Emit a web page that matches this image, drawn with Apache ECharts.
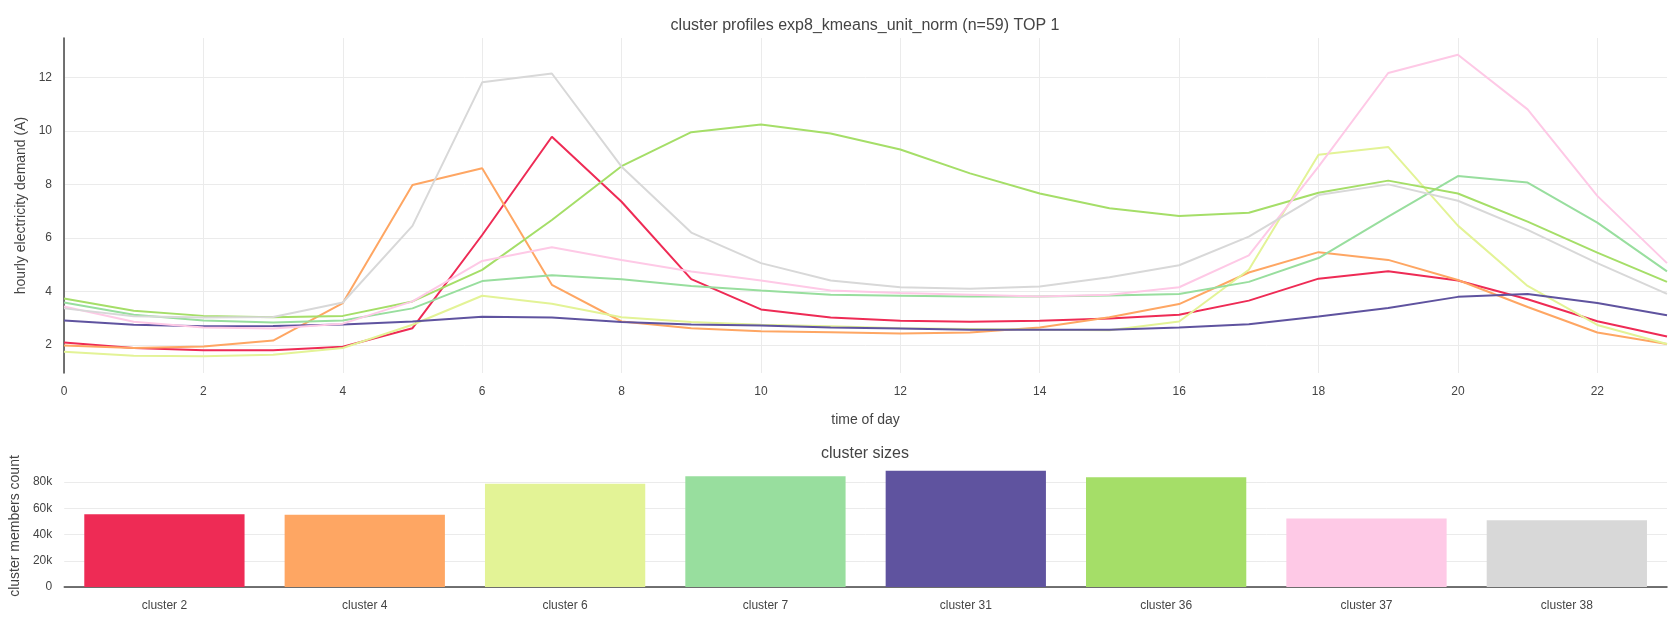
<!DOCTYPE html>
<html>
<head>
<meta charset="utf-8">
<script src="https://cdn.jsdelivr.net/npm/echarts@6/dist/echarts.min.js"></script>
<style>
  html, body { margin: 0; padding: 0; background: #fff; }
  #chart { width: 1676px; height: 635px; }
</style>
</head>
<body>
<div id="chart"></div>
<script>
// hour of day (x of the profile chart)
var hours = [0, 1, 2, 3, 4, 5, 6, 7, 8, 9, 10, 11, 12, 13, 14, 15, 16, 17, 18, 19, 20, 21, 22, 23];

// mean hourly demand per cluster (A)
var cluster2  = [2.10, 1.89, 1.81, 1.81, 1.94, 2.63, 6.11, 9.78, 7.35, 4.46, 3.33, 3.03, 2.91, 2.87, 2.91, 2.99, 3.13, 3.66, 4.48, 4.76, 4.41, 3.71, 2.89, 2.32];
var cluster4  = [1.98, 1.89, 1.95, 2.17, 3.57, 7.98, 8.60, 4.25, 2.88, 2.63, 2.52, 2.48, 2.43, 2.47, 2.66, 3.04, 3.53, 4.71, 5.47, 5.18, 4.43, 3.42, 2.47, 2.04];
var cluster6  = [1.75, 1.60, 1.58, 1.64, 1.89, 2.76, 3.84, 3.54, 3.04, 2.86, 2.76, 2.70, 2.63, 2.60, 2.57, 2.55, 2.88, 4.81, 9.11, 9.40, 6.46, 4.21, 2.75, 2.04];
var cluster7  = [3.59, 3.13, 2.92, 2.84, 2.92, 3.37, 4.39, 4.61, 4.46, 4.21, 4.04, 3.88, 3.84, 3.81, 3.81, 3.85, 3.91, 4.36, 5.25, 6.80, 8.31, 8.07, 6.57, 4.75];
var cluster31 = [2.92, 2.76, 2.70, 2.71, 2.77, 2.88, 3.06, 3.03, 2.86, 2.77, 2.73, 2.66, 2.62, 2.57, 2.57, 2.57, 2.66, 2.78, 3.07, 3.38, 3.80, 3.91, 3.57, 3.11];
var cluster36 = [3.74, 3.28, 3.09, 3.04, 3.09, 3.63, 4.81, 6.67, 8.68, 9.95, 10.24, 9.90, 9.30, 8.41, 7.66, 7.11, 6.82, 6.94, 7.69, 8.14, 7.66, 6.61, 5.45, 4.36];
var cluster37 = [3.44, 2.87, 2.66, 2.62, 2.80, 3.63, 5.14, 5.65, 5.18, 4.75, 4.41, 4.04, 3.94, 3.88, 3.81, 3.88, 4.16, 5.35, 8.66, 12.16, 12.84, 10.80, 7.57, 5.06];
var cluster38 = [3.37, 3.08, 3.03, 3.05, 3.59, 6.45, 11.81, 12.14, 8.66, 6.20, 5.06, 4.41, 4.16, 4.10, 4.19, 4.53, 4.98, 6.05, 7.60, 8.00, 7.39, 6.30, 5.06, 3.91];

// cluster labels and member counts
var clusterNames = ['cluster 2', 'cluster 4', 'cluster 6', 'cluster 7', 'cluster 31', 'cluster 36', 'cluster 37', 'cluster 38'];
var clusterSizes = [55600, 55100, 78700, 84600, 88700, 83800, 52300, 51000];
var profiles = [cluster2, cluster4, cluster6, cluster7, cluster31, cluster36, cluster37, cluster38];

var colors = ['#ee2b55', '#fea663', '#e3f396', '#98de9e', '#5f539f', '#a5de68', '#fec9e6', '#d8d8d8'];

var FONT = '"Liberation Sans", Arial, sans-serif';
var TXT = '#444';

var chart = echarts.init(document.getElementById('chart'));

var lineSeries = profiles.map(function (vals, i) {
    return {
        name: clusterNames[i],
        type: 'line',
        xAxisIndex: 0,
        yAxisIndex: 0,
        showSymbol: false,
        symbol: 'none',
        lineStyle: { width: 2, color: colors[i] },
        itemStyle: { color: colors[i] },
        data: hours.map(function (h, j) { return [h, vals[j]]; })
    };
});

option = {
    animation: false,
    textStyle: { fontFamily: FONT },
    title: [
        {
            text: 'cluster profiles exp8_kmeans_unit_norm (n=59) TOP 1',
            left: 865, top: 18, padding: 0, textAlign: 'center',
            textStyle: { fontFamily: FONT, fontSize: 16, fontWeight: 'normal', color: TXT }
        },
        {
            text: 'cluster sizes',
            left: 865, top: 446, padding: 0, textAlign: 'center',
            textStyle: { fontFamily: FONT, fontSize: 16, fontWeight: 'normal', color: TXT }
        }
    ],
    grid: [
        { left: 64, right: 9, top: 38, height: 335 },
        { left: 64, right: 9, top: 465, height: 122 }
    ],
    xAxis: [
        {
            type: 'value', gridIndex: 0, min: 0, max: 23, interval: 2,
            name: 'time of day', nameLocation: 'middle', nameGap: 40,
            nameTextStyle: { fontSize: 14, color: TXT, fontFamily: FONT },
            axisLine: { show: false }, axisTick: { show: false },
            axisLabel: { fontSize: 12, color: TXT, margin: 13, showMaxLabel: false, fontFamily: FONT },
            splitLine: { show: true, showMaxLine: false, lineStyle: { color: '#ebebeb', width: 1 } }
        },
        {
            type: 'category', gridIndex: 1, data: clusterNames,
            axisLine: { show: true, lineStyle: { color: '#444', width: 1.5 } },
            axisTick: { show: false },
            axisLabel: { fontSize: 12, color: TXT, margin: 13, fontFamily: FONT },
            splitLine: { show: false }
        }
    ],
    yAxis: [
        {
            type: 'value', gridIndex: 0, min: 0.957, max: 13.466, splitNumber: 6,
            name: 'hourly electricity demand (A)', nameLocation: 'middle', nameGap: 33,
            nameTextStyle: { fontSize: 14, color: TXT, fontFamily: FONT },
            axisLine: { show: true, lineStyle: { color: '#444', width: 1.5 } },
            axisTick: { show: false },
            axisLabel: { fontSize: 12, color: TXT, margin: 12, showMinLabel: false, showMaxLabel: false, fontFamily: FONT },
            splitLine: { show: true, showMinLine: false, showMaxLine: false, lineStyle: { color: '#ebebeb', width: 1 } }
        },
        {
            type: 'value', gridIndex: 1, min: 0, max: 93100, interval: 20000,
            name: 'cluster members count', nameLocation: 'middle', nameGap: 33,
            nameTextStyle: { fontSize: 14, color: TXT, fontFamily: FONT },
            axisLine: { show: false }, axisTick: { show: false },
            axisLabel: {
                fontSize: 12, color: TXT, margin: 12, showMaxLabel: false, fontFamily: FONT,
                formatter: function (v) { return v === 0 ? '0' : (v / 1000) + 'k'; }
            },
            splitLine: { show: true, showMaxLine: false, lineStyle: { color: '#ebebeb', width: 1 } }
        }
    ],
    series: lineSeries.concat([
        {
            name: 'cluster sizes',
            type: 'bar',
            xAxisIndex: 1,
            yAxisIndex: 1,
            barCategoryGap: '20%',
            data: clusterSizes.map(function (v, i) {
                return { value: v, itemStyle: { color: colors[i] } };
            })
        }
    ])
};

chart.setOption(option);
</script>
</body>
</html>
